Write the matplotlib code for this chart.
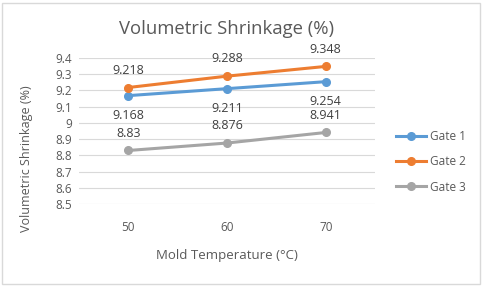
import matplotlib
matplotlib.use("Agg")
import matplotlib.pyplot as plt
from matplotlib.patches import Rectangle

temps = ["50", "60", "70"]
gate1 = [9.168, 9.211, 9.254]
gate2 = [9.218, 9.288, 9.348]
gate3 = [8.83, 8.876, 8.941]
series = [("Gate 1", gate1, "#5B9BD5", -14), ("Gate 2", gate2, "#ED7D31", 12.5),
          ("Gate 3", gate3, "#A5A5A5", 12.5)]
yticks = [8.5, 8.6, 8.7, 8.8, 8.9, 9.0, 9.1, 9.2, 9.3, 9.4]

plt.rcParams["font.family"] = ["Open Sans", "DejaVu Sans"]
text_col = "#595959"

fig = plt.figure(figsize=(4.84, 2.87), dpi=100)
fig.patches.append(Rectangle((0.004, 0.01), 0.988, 0.98, transform=fig.transFigure,
                             fill=False, edgecolor="#D9D9D9", linewidth=1))
ax = fig.add_axes([0.163, 0.289, 0.612, 0.509])

x = range(len(temps))
for name, vals, col, off in series:
    ax.plot(x, vals, color=col, linewidth=2.2, marker="o", markersize=5.5, label=name)
    for xi, v in zip(x, vals):
        ax.annotate(f"{v:g}", (xi, v), xytext=(0, off), textcoords="offset points",
                    ha="center", va="center", fontsize=9, color="#404040")

ax.set_xlim(-0.5, 2.5)
ax.set_ylim(8.5, 9.4)
ax.set_xticks(list(x))
ax.set_xticklabels(temps)
ax.set_yticks(yticks)
ax.set_yticklabels([f"{t:g}" for t in yticks])
ax.tick_params(length=0, labelsize=8.5, colors=text_col, pad=5)
ax.tick_params(axis="x", pad=12)
for s in ax.spines.values():
    s.set_visible(False)
ax.grid(axis="y", color="#D9D9D9", linewidth=0.8)
ax.set_axisbelow(True)

ax.set_xlabel("Mold Temperature (°C)", fontsize=9.5, color=text_col, labelpad=11)
ax.set_ylabel("Volumetric Shrinkage (%)", fontsize=9, color=text_col)
ax.yaxis.set_label_coords(-0.155, 0.31)
ax.set_title("Volumetric Shrinkage (%)", fontsize=13.3, color=text_col, pad=17)

ax.legend(loc="center left", bbox_to_anchor=(1.035, 0.29), frameon=False, fontsize=8.5,
          labelcolor=text_col, handlelength=2.5, handletextpad=0.4, labelspacing=1.05)

fig.savefig("out.png", dpi=100)
